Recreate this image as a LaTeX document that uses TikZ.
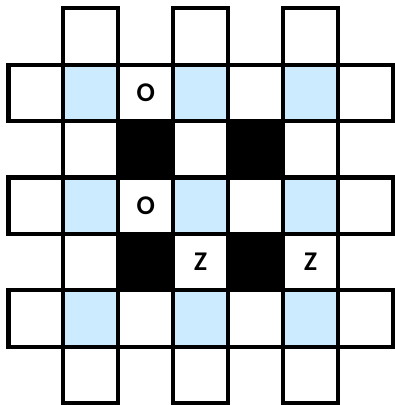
\documentclass[tikz,border=0pt]{standalone}
\usepackage{fontspec}
\setmainfont{Carlito}
\usepackage{xcolor}
\definecolor{cellblue}{RGB}{204, 235, 255}
\usetikzlibrary{positioning}

\tikzset{
  gridline/.style={draw=black, line width=2.1pt},
  mark text/.style={font=\fontsize{14}{16}\selectfont\bfseries, inner sep=0pt}
}

\begin{document}
\begin{tikzpicture}[x=1cm, y=-1.0273cm]
      \useasboundingbox (-0.155,-0.147) rectangle (7.022,7.034);
      % Blue cells
      \foreach \r in {1,3,5}
        \foreach \c in {1,3,5}
          \fill[cellblue] (\c,\r) rectangle ++(1,1);
      % Black cells
      \foreach \r in {2,4}
        \foreach \c in {2,4}
          \fill[black] (\c,\r) rectangle ++(1,1);
      % Full rows
      \foreach \r in {1,3,5}
        \foreach \c in {0,...,6}
          \draw[gridline] (\c,\r) rectangle ++(1,1);
      % Full columns
      \foreach \c in {1,3,5}
        \foreach \r in {0,...,6}
          \draw[gridline] (\c,\r) rectangle ++(1,1);
      % Inner rows
      \foreach \r in {2,4}
        \foreach \c in {1,...,5}
          \draw[gridline] (\c,\r) rectangle ++(1,1);
      % Labels
      \node[mark text] (o1) at (2.5,1.5) {O};
      \node[mark text] (o2) at (2.5,3.5) {O};
      \node[mark text] (z1) at (3.5,4.5) {Z};
      \node[mark text] (z2) at (5.5,4.5) {Z};
\end{tikzpicture}
\end{document}
